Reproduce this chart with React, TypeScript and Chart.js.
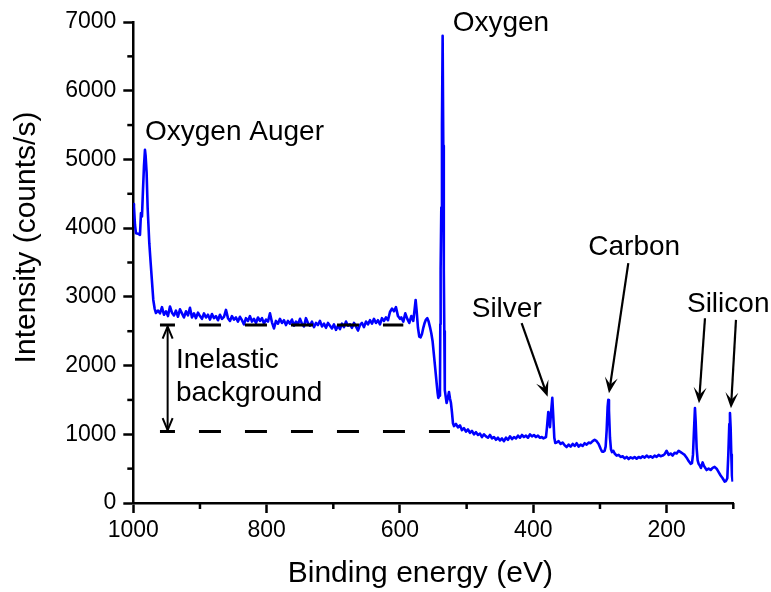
import React, { useEffect, useRef } from 'react';
import { Chart, registerables } from 'chart.js';

Chart.register(...registerables);

type Pt = [number, number];

// Spectrum segments: [binding energy (eV), intensity (counts/s)]
const augerRegion: Pt[] = [
  [1000, 4350], [999, 4314], [997.5, 4050], [996, 3927], [993, 3920], [990, 3902],
  [988.5, 4218], [987, 4169], [985.5, 4550], [984, 4900], [982.5, 5140], [981.5, 5050],
  [980, 4800], [978.5, 4300], [976, 3781], [974, 3500], [972.5, 3295], [970, 2955],
  [968, 2830], [966, 2765],
];

const plateauRegion: Pt[] = [
  [963, 2800], [960, 2760], [957, 2850], [954, 2740], [951, 2790], [948, 2720], [945, 2860],
  [942, 2770], [939, 2730], [936, 2800], [933, 2710], [930, 2820], [927, 2760], [924, 2700],
  [921, 2790], [918, 2730], [915, 2840], [912, 2700], [909, 2760], [906, 2690], [903, 2770],
  [900, 2720], [897, 2680], [894, 2760], [891, 2700], [888, 2740], [885, 2670], [882, 2750],
  [879, 2690], [876, 2720], [873, 2660], [870, 2740], [867, 2680], [864, 2710], [861, 2810],
  [858, 2690], [855, 2650], [852, 2720], [849, 2670], [846, 2700], [843, 2640], [840, 2710],
  [837, 2660], [834, 2600], [831, 2690], [828, 2650], [825, 2720], [822, 2640], [819, 2680],
  [816, 2620], [813, 2700], [810, 2650], [807, 2690], [804, 2610], [801, 2670], [798, 2640],
  [795, 2760], [792, 2630], [789, 2540], [786, 2650], [783, 2610], [780, 2680], [777, 2620],
  [774, 2660], [771, 2590], [768, 2650], [765, 2610], [762, 2670], [759, 2580], [756, 2640],
  [753, 2600], [750, 2680], [747, 2610], [744, 2570], [741, 2690], [738, 2620], [735, 2580],
  [732, 2640], [729, 2560], [726, 2620], [723, 2590], [720, 2650], [717, 2570], [714, 2610],
  [711, 2550], [708, 2620], [705, 2580], [702, 2540], [699, 2600], [696, 2520], [693, 2580],
  [690, 2530], [687, 2610], [684, 2560], [681, 2640], [678, 2580], [675, 2600], [672, 2550],
  [669, 2620], [666, 2570], [663, 2510], [660, 2590], [657, 2620], [654, 2560], [651, 2640],
  [648, 2600], [645, 2660], [642, 2610], [639, 2680], [636, 2620], [633, 2660], [630, 2600],
  [627, 2690], [624, 2650], [621, 2700], [618, 2660], [615, 2780], [612, 2830], [609, 2790],
  [606, 2850], [603, 2720], [600, 2680],
];

const oxygenRegion: Pt[] = [
  [598, 2700], [595, 2640], [592, 2760], [589, 2680], [586, 2620], [583, 2720], [580, 2650],
  [578, 2820], [576.5, 2955], [575, 2800], [573, 2550], [571, 2420], [569, 2410], [567, 2460],
  [565, 2550], [563, 2620], [561, 2670], [559, 2690], [557, 2640], [555, 2560], [553, 2470],
  [551, 2350], [549, 2150], [547, 1950], [545, 1745], [543.5, 1600], [542.5, 1530],
  [541, 1560], [540, 1620], [539.5, 2600], [539, 3400], [538, 4300], [537, 5500], [536, 6800],
  [535, 5200], [534.5, 4000], [534, 3400], [533.5, 2500], [533, 1900], [532.5, 1645],
  [531, 1520], [530, 1455], [528, 1540], [526.5, 1615], [525, 1520], [523.5, 1455],
  [522, 1320], [520.5, 1160],
];

const lowerPlateau: Pt[] = [
  [519, 1120], [516, 1150], [513, 1100], [510, 1130], [507, 1060], [504, 1090], [501, 1040],
  [498, 1070], [495, 1020], [492, 1050], [489, 1000], [486, 1030], [483, 990], [480, 1010],
  [477, 960], [474, 1000], [471, 970], [468, 950], [465, 990], [462, 940], [459, 960],
  [456, 920], [453, 950], [450, 910], [447, 940], [444, 900], [441, 950], [438, 920],
  [435, 970], [432, 930], [429, 960], [426, 940], [423, 980], [420, 950], [417, 990],
  [414, 960], [411, 980], [408, 950], [405, 1000], [402, 970], [399, 990], [396, 960],
  [393, 980], [390, 950], [387, 960], [385, 940],
];

const silverRegion: Pt[] = [
  [383, 950], [381, 960], [379.5, 1100], [377.5, 1325], [376, 1200], [375, 1105],
  [373.5, 1300], [371.5, 1530], [370, 1250], [368.5, 950], [367, 873], [365, 880],
  [362, 900], [359, 860], [356, 880], [353, 840], [350, 815], [347, 850], [344, 820],
  [341, 860], [338, 830], [335, 870], [332, 820], [329, 850], [326, 830], [323, 870],
  [320, 850], [317, 880], [314, 870], [311, 900], [308, 920], [305, 900], [302, 860],
  [299, 790], [297, 750],
];

const carbonRegion: Pt[] = [
  [295.5, 745], [293, 760], [291.5, 820], [290, 1050], [288.5, 1400], [287.5, 1500],
  [286.5, 1350], [285, 950], [283.5, 780], [282, 740], [280, 760], [278, 720], [275, 690],
  [272, 700], [269, 670], [266, 680], [263, 650], [260, 670], [257, 640], [254, 665],
  [251, 650], [248, 670], [245, 645], [242, 670], [239, 655], [236, 680], [233, 660],
  [230, 690], [227, 665], [224, 680], [221, 660], [218, 690], [215, 670], [212, 700],
  [209, 680], [206, 690], [203, 710], [200, 760], [197, 700], [194, 720], [191, 690],
  [188, 730], [185, 720], [182, 760], [179, 740], [176, 720], [173, 700], [170, 660],
  [167, 610], [164, 570], [162, 580],
];

const siliconRegion: Pt[] = [
  [160.5, 700], [159, 1050], [157.5, 1383], [156.5, 1200], [155, 800], [153.5, 620],
  [152, 570], [150, 540], [148.5, 510], [147, 560], [146, 590], [144, 540], [142, 510],
  [140, 480], [137, 500], [134, 480], [131, 510], [128, 525], [125, 500], [122, 450],
  [119, 400], [116, 360], [113, 310], [111, 320], [109, 360], [107.5, 700], [106, 1150],
  [105, 1310], [104, 1100], [103, 700], [102, 400], [101, 310],
];

const xMajorTicks = [1000, 800, 600, 400, 200];
const xMinorTicks = [900, 700, 500, 300, 100];
const yMajorTicks = [0, 1000, 2000, 3000, 4000, 5000, 6000, 7000];
const yMinorTicks = [500, 1500, 2500, 3500, 4500, 5500, 6500];

const xTitle = 'Binding energy (eV)';
const yTitle = 'Intensity (counts/s)';

// Annotations in data coordinates
const peakLabels = [
  { text: 'Oxygen Auger', x: 982.5, y: 5285 },
  { text: 'Oxygen', x: 521, y: 6862 },
  { text: 'Carbon', x: 317.5, y: 3611 },
  { text: 'Silver', x: 492.4, y: 2712 },
  { text: 'Silicon', x: 169.5, y: 2785 },
  { text: 'Inelastic', x: 936, y: 1961 },
  { text: 'background', x: 936, y: 1490 },
];

const peakArrows = [
  { from: [417.5, 2617], to: [378.5, 1548] },
  { from: [257.5, 3490], to: [286.5, 1597] },
  { from: [142.5, 2689], to: [151.5, 1452] },
  { from: [96, 2665], to: [103.5, 1379] },
];

const bgUpper = 2590;
const bgLower = 1040;
const bgStart = 960;
const bgUpperEnd = 595;
const bgLowerEnd = 525;
const bgArrowAt = 948.5;

const FONT = '"Liberation Sans", Arial, Helvetica, sans-serif';

const annotationPlugin = {
  id: 'xpsAnnotations',
  afterDraw(chart: any) {
    const { ctx, chartArea } = chart;
    const xs = chart.scales.x;
    const ys = chart.scales.y;
    const px = (v: number) => xs.getPixelForValue(v);
    const py = (v: number) => ys.getPixelForValue(v);
    const line = (x1: number, y1: number, x2: number, y2: number) => {
      ctx.beginPath();
      ctx.moveTo(x1, y1);
      ctx.lineTo(x2, y2);
      ctx.stroke();
    };
    ctx.save();
    ctx.strokeStyle = '#000';
    ctx.fillStyle = '#000';
    // minor ticks
    ctx.lineWidth = 2.5;
    xMinorTicks.forEach((v) => {
      const X = px(v);
      line(X, chartArea.bottom, X, chartArea.bottom + 6);
    });
    yMinorTicks.forEach((v) => {
      const Y = py(v);
      line(chartArea.left - 6, Y, chartArea.left, Y);
    });

    // dashed background levels
    ctx.lineWidth = 3;
    ctx.setLineDash([22, 24]);
    ctx.lineDashOffset = 7;
    line(px(bgStart), py(bgUpper), px(bgUpperEnd), py(bgUpper));
    line(px(bgStart), py(bgLower), px(bgLowerEnd), py(bgLower));
    ctx.setLineDash([]);
    ctx.lineDashOffset = 0;

    // double arrow
    ctx.lineWidth = 2;
    const ax = px(bgArrowAt);
    const yTop = py(bgUpper) + 1.5;
    const yBot = py(bgLower) - 1.5;
    line(ax, yTop, ax, yBot);
    ctx.beginPath();
    ctx.moveTo(ax - 5, yTop + 12);
    ctx.lineTo(ax, yTop);
    ctx.lineTo(ax + 5, yTop + 12);
    ctx.stroke();
    ctx.beginPath();
    ctx.moveTo(ax - 5, yBot - 12);
    ctx.lineTo(ax, yBot);
    ctx.lineTo(ax + 5, yBot - 12);
    ctx.stroke();

    // peak arrows
    peakArrows.forEach((a) => {
      const x1 = px(a.from[0]);
      const y1 = py(a.from[1]);
      const x2 = px(a.to[0]);
      const y2 = py(a.to[1]);
      const ang = Math.atan2(y2 - y1, x2 - x1);
      const L = 16;
      const W = 6.5;
      ctx.lineWidth = 2.2;
      line(x1, y1, x2 - Math.cos(ang) * 8, y2 - Math.sin(ang) * 8);
      ctx.save();
      ctx.translate(x2, y2);
      ctx.rotate(ang);
      ctx.beginPath();
      ctx.moveTo(0, 0);
      ctx.lineTo(-L, -W);
      ctx.lineTo(-L * 0.55, 0);
      ctx.lineTo(-L, W);
      ctx.closePath();
      ctx.fill();
      ctx.restore();
    });

    // labels
    ctx.font = `28px ${FONT}`;
    ctx.textAlign = 'left';
    ctx.textBaseline = 'alphabetic';
    peakLabels.forEach((l) => {
      ctx.fillText(l.text, px(l.x), py(l.y));
    });

    // axis titles
    ctx.font = `30px ${FONT}`;
    ctx.textAlign = 'center';
    ctx.textBaseline = 'middle';
    ctx.fillText(xTitle, (chartArea.left + chartArea.right) / 2 - 13, chart.height - 18);
    ctx.save();
    ctx.translate(27, (chartArea.top + chartArea.bottom) / 2 - 25);
    ctx.rotate(-Math.PI / 2);
    ctx.fillText(yTitle, 0, 0);
    ctx.restore();

    ctx.restore();
  },
};

export default function App() {
  const ref = useRef<HTMLCanvasElement | null>(null);

  useEffect(() => {
    if (!ref.current) return;
    const all: Pt[] = [
      ...augerRegion,
      ...plateauRegion,
      ...oxygenRegion,
      ...lowerPlateau,
      ...silverRegion,
      ...carbonRegion,
      ...siliconRegion,
    ];
    const chart = new Chart(ref.current, {
      type: 'line',
      data: {
        datasets: [
          {
            label: 'XPS survey',
            data: all.map(([x, y]) => ({ x, y })),
            borderColor: '#0000ff',
            borderWidth: 2.6,
            borderJoinStyle: 'round',
            pointRadius: 0,
            tension: 0,
            fill: false,
          },
        ],
      },
      options: {
        responsive: false,
        animation: false,
        devicePixelRatio: 1,
        layout: { padding: { left: 0, right: 37.7, top: 22, bottom: 0 } },
        plugins: { legend: { display: false }, tooltip: { enabled: false } },
        scales: {
          x: {
            type: 'linear',
            reverse: true,
            min: 100,
            max: 1000,
            afterBuildTicks: (s: any) => {
              s.ticks = xMajorTicks.map((v) => ({ value: v }));
            },
            afterFit: (s: any) => {
              s.height = 89;
            },
            ticks: {
              callback: (v: any) => String(v),
              font: { family: FONT, size: 23 },
              color: '#000',
              padding: 4,
              maxRotation: 0,
              autoSkip: false,
            },
            grid: {
              drawOnChartArea: false,
              drawTicks: true,
              tickLength: 10,
              tickWidth: 2.5,
              tickColor: '#000',
            },
            border: { display: true, color: '#000', width: 2.5 },
            title: { display: false },
          },
          y: {
            type: 'linear',
            min: 0,
            max: 7000,
            afterBuildTicks: (s: any) => {
              s.ticks = yMajorTicks.map((v) => ({ value: v }));
            },
            afterFit: (s: any) => {
              s.width = 133.3;
            },
            ticks: {
              callback: (v: any) => String(v),
              font: { family: FONT, size: 23 },
              color: '#000',
              padding: 7,
              autoSkip: false,
            },
            grid: {
              drawOnChartArea: false,
              drawTicks: true,
              tickLength: 10,
              tickWidth: 2.5,
              tickColor: '#000',
            },
            border: { display: true, color: '#000', width: 2.5 },
            title: { display: false },
          },
        },
      },
      plugins: [annotationPlugin],
    } as any);
    return () => chart.destroy();
  }, []);

  return (
    <div style={{ position: 'fixed', left: 0, top: 0, width: 771, height: 592, background: '#fff' }}>
      <canvas ref={ref} width={771} height={592} style={{ display: 'block', width: 771, height: 592 }} />
    </div>
  );
}
